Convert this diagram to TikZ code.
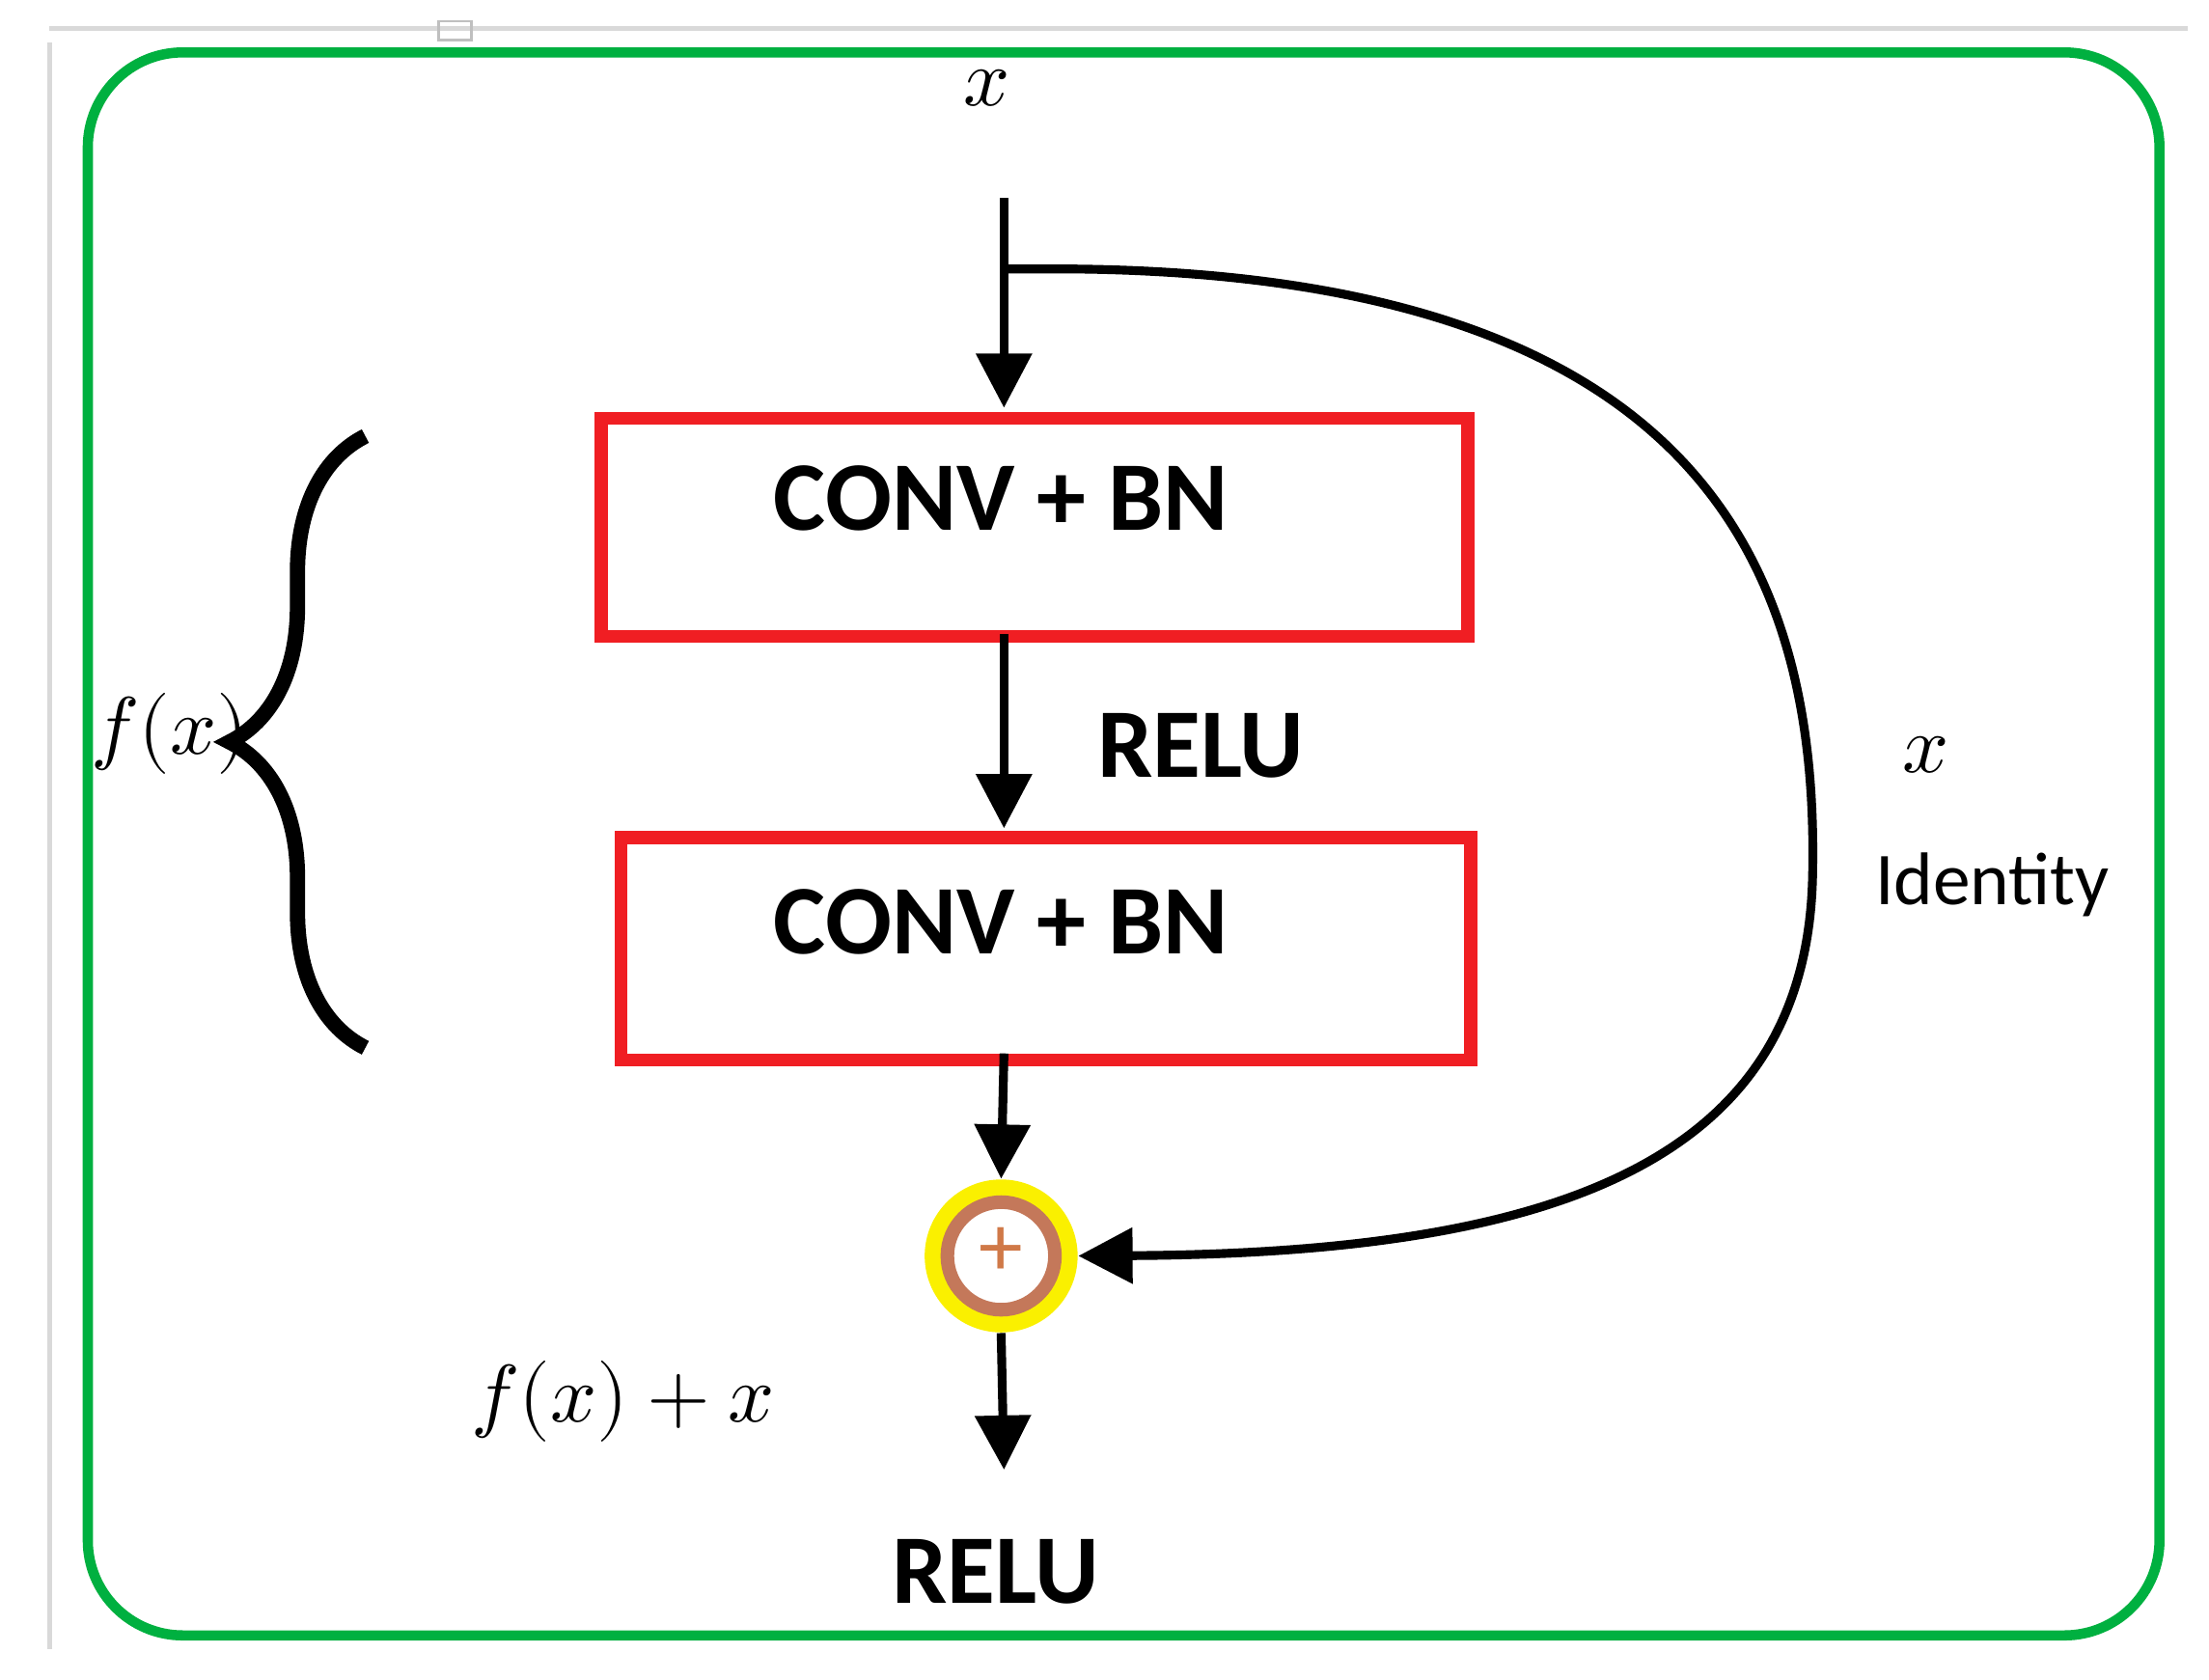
\documentclass[tikz,border=0pt]{standalone}
\usepackage{fontspec}
\setmainfont{Carlito}
\usepackage{unicode-math}
\usetikzlibrary{arrows.meta,decorations.pathreplacing}
\definecolor{grn}{RGB}{0,176,64}
\definecolor{rd}{RGB}{240,30,35}
\definecolor{brn}{RGB}{196,120,90}
\definecolor{yel}{RGB}{250,240,0}
\begin{document}
\begin{tikzpicture}[x=0.01467cm,y=-0.01467cm,
  arr/.style={line width=2.6pt,-{Triangle[length=16pt,width=16pt]}},
  box/.style={draw=rd,line width=3.8pt,anchor=north west,inner sep=0pt},
  lbl/.style={font=\fontsize{29}{34}\selectfont\bfseries},
  mth/.style={font=\fontsize{24}{28}\selectfont}]
\useasboundingbox (0,0) rectangle (1560,1186);
\fill[white] (0,0) rectangle (1560,1186);
\draw[gray!30,line width=1.5pt] (35,30) -- (35,1165);
\draw[gray!30,line width=1.5pt] (35,20) -- (1545,20);
\draw[gray!50,line width=0.8pt] (310,15) rectangle (333,28);
\draw[grn,line width=3pt,rounded corners=28pt] (62,37) rectangle (1525,1155);
\node[mth] (xin) at (697,62) {$x$};
\coordinate (top) at (709,140);
\coordinate (split) at (709,190);
\node[box,minimum width={612*0.01467cm},minimum height={154*0.01467cm}] (b1) at (420,291) {};
\node[lbl] at (707,352) {CONV + BN};
\node[box,minimum width={600*0.01467cm},minimum height={157*0.01467cm}] (b2) at (434,587) {};
\node[lbl] at (707,651) {CONV + BN};
\node[lbl] at (848,527) {RELU};
\node[circle,fill=yel,minimum size={108*0.01467cm},inner sep=0pt] (sum) at (707,887) {};
\draw[brn,line width=4pt,fill=white] (sum.center) circle (38);
\node[text=brn!80!orange,font=\fontsize{26}{30}\selectfont] at (707,884) {+};
\coordinate (out) at (709,1038);
\node[lbl] (r2) at (703,1110) {RELU};
\draw[arr] (top) -- (709,288);
\draw[arr] (709,448) -- (709,585);
\draw[arr] (709,744) -- (sum.north);
\draw[arr] (sum.south) -- (out);
\draw[arr] (split) -- (760,190) .. controls (1200,195) and (1285,400) .. (1280,620)
  .. controls (1275,820) and (1100,885) .. (sum.east);
\draw[line width=4.5pt,decorate,decoration={brace,amplitude=40}] (258,740) -- (258,308);
\node[mth] at (120,518) {$f(x)$};
\node[mth] at (440,990) {$f(x)+x$};
\node[mth] at (1360,533) {$x$};
\node[font=\fontsize{22}{26}\selectfont] at (1407,625) {Identity};
\end{tikzpicture}
\end{document}
